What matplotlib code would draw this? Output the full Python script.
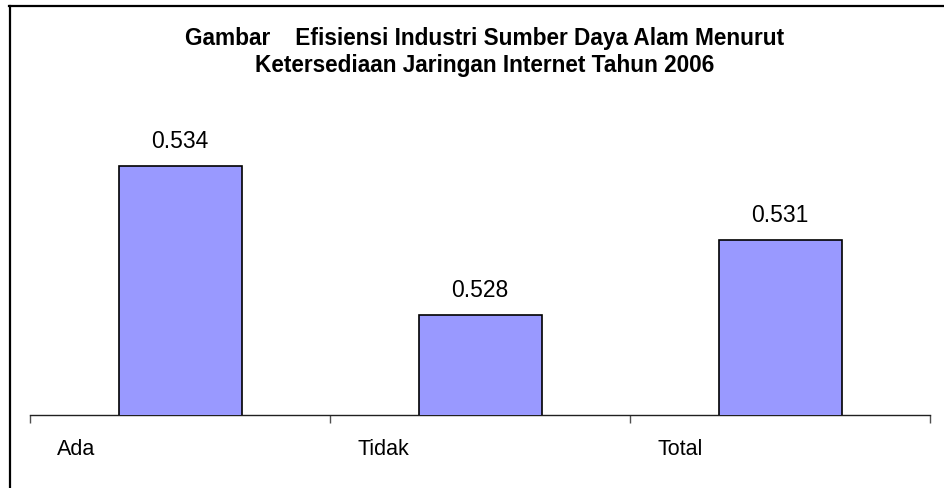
import matplotlib.pyplot as plt
from matplotlib.lines import Line2D

categories = ['Ada', 'Tidak', 'Total']
efisiensi = [0.534, 0.528, 0.531]
value_labels = ['0.534', '0.528', '0.531']
title = 'Gambar    Efisiensi Industri Sumber Daya Alam Menurut\nKetersediaan Jaringan Internet Tahun 2006'

plt.rcParams['font.family'] = ['Liberation Sans', 'DejaVu Sans']

W, H = 944, 489
fig = plt.figure(figsize=(W / 100, H / 100), dpi=100)
# plot area: x 30..930 px, axis line at y=415.5 px
ax = fig.add_axes([30 / W, (H - 415.5) / H, 900 / W, 323.7 / H])

x = list(range(len(categories)))
ax.bar(x, efisiensi, width=0.41, color='#9999FF', edgecolor='black', linewidth=1.2, zorder=3)
ax.set_xlim(-0.5, len(categories) - 0.5)
ax.set_ylim(0.524, 0.537)

for i, v in enumerate(efisiensi):
    ax.text(i, v + 0.00102, value_labels[i], ha='center', va='center', fontsize=16.5)

# category labels sit at the left of each slot
for i, c in enumerate(categories):
    ax.text(i - 0.5 + 0.09, -0.105, c, ha='left', va='center', fontsize=15.5,
            transform=ax.get_xaxis_transform())

for s in ['top', 'right', 'left']:
    ax.spines[s].set_visible(False)
ax.spines['bottom'].set_linewidth(1.0)
ax.spines['bottom'].set_color('#202020')
ax.set_yticks([])
ax.set_xticks([i - 0.5 for i in range(len(categories) + 1)])
ax.set_xticklabels([])
ax.tick_params(axis='x', direction='out', length=5.8, width=1.0, color='#505050')

fig.text(485 / W, 1 - 52 / H, title, ha='center', va='center', fontsize=16.3,
         fontweight='bold', linespacing=1.2)

# chart border (only top and left visible in the crop)
fig.add_artist(Line2D([10 / W, 10 / W], [0, 1 - 7 / H], color='black', linewidth=1.6,
                      transform=fig.transFigure))
fig.add_artist(Line2D([9.2 / W, 1], [1 - 7 / H, 1 - 7 / H], color='black', linewidth=1.6,
                      transform=fig.transFigure))

fig.savefig('out.png', dpi=100)
